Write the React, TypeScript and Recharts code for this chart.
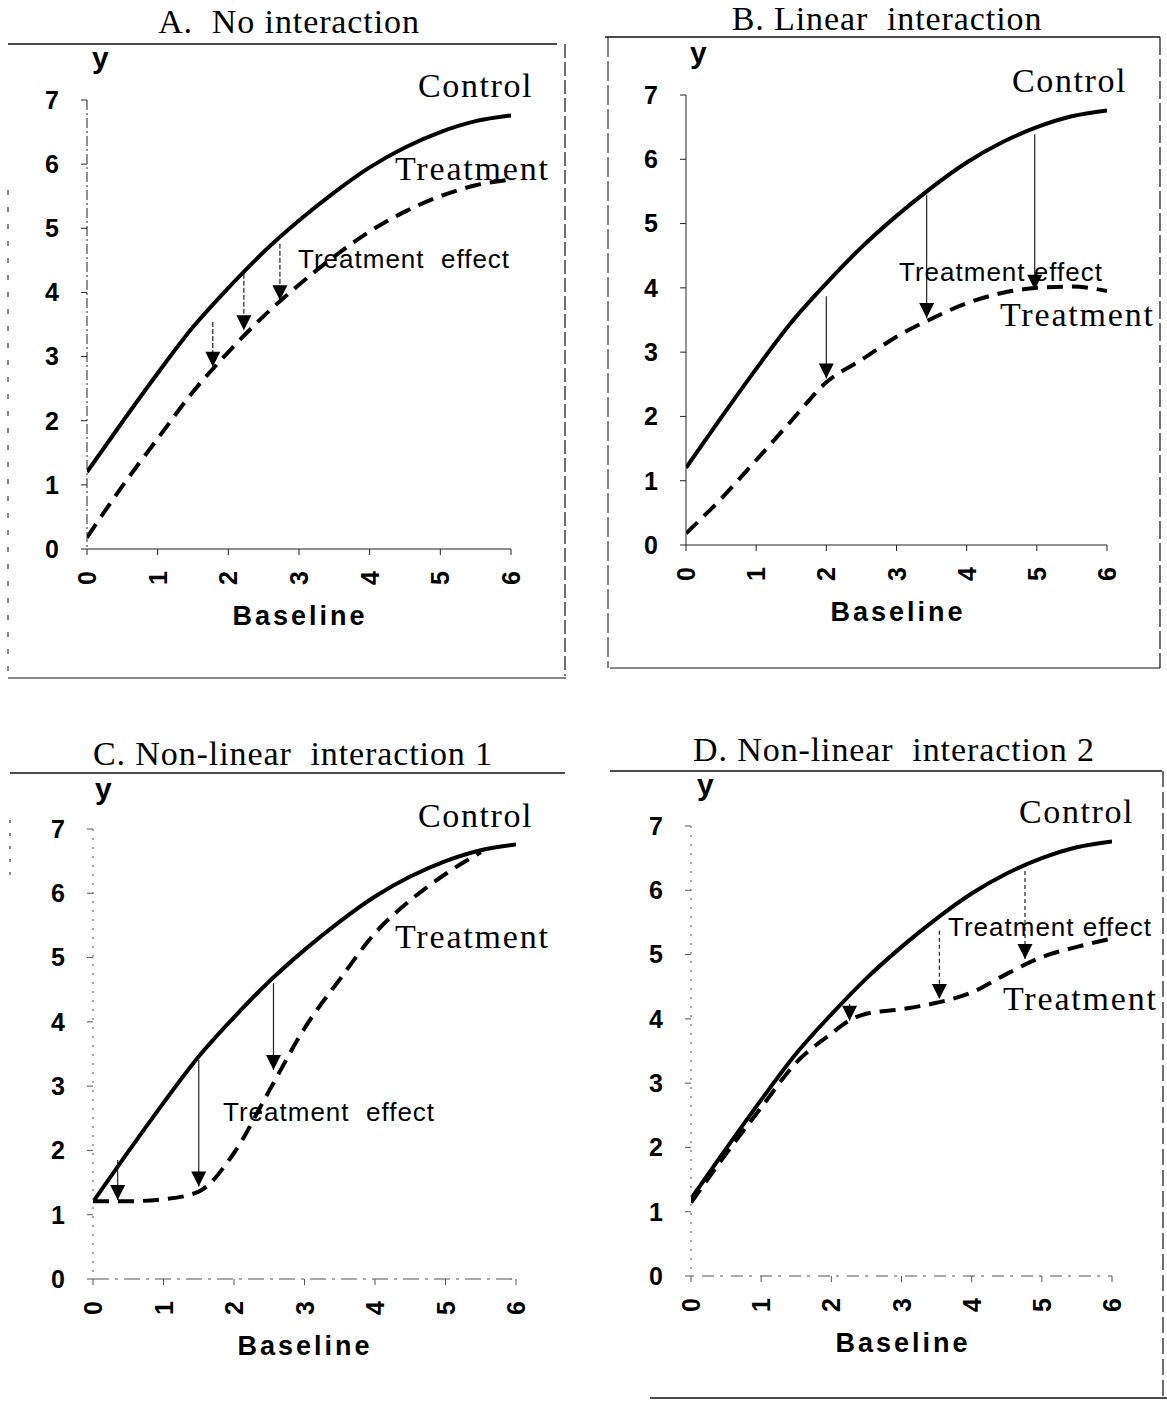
import React from 'react';
import { LineChart, Line, XAxis, YAxis, ReferenceLine, ReferenceDot } from 'recharts';

// Baseline grid shared by most curves
const baseline = [0, 0.5, 1, 1.5, 2, 2.5, 3, 3.5, 4, 4.5, 5, 5.5, 6];
const baselineD = [0, 0.5, 1, 1.5, 2, 2.25, 2.5, 3, 3.5, 4, 4.5, 5, 5.5, 6];
const xTicks = [0, 1, 2, 3, 4, 5, 6];
const yTicks = [0, 1, 2, 3, 4, 5, 6, 7];

const control = [1.2, 1.98, 2.74, 3.46, 4.07, 4.63, 5.12, 5.56, 5.95, 6.26, 6.5, 6.67, 6.76];
const treatmentA = [0.18, 0.98, 1.72, 2.45, 3.07, 3.63, 4.12, 4.56, 4.95, 5.26, 5.5, 5.67, 5.76];
const treatmentB = [0.18, 0.72, 1.32, 1.93, 2.53, 2.88, 3.24, 3.52, 3.76, 3.92, 4.0, 4.02, 3.95];
const treatmentC = [1.21, 1.21, 1.24, 1.36, 1.96, 2.93, 3.9, 4.66, 5.38, 5.89, 6.3, 6.64];
const treatmentD = [1.14, 1.9, 2.62, 3.32, 3.77, 3.97, 4.08, 4.15, 4.25, 4.41, 4.7, 4.96, 5.12, 5.25];

// treatment effect arrows: baseline position, start (near control), tip (on treatment)
const effectAx = [1.78, 2.22, 2.73];
const effectAFrom = [3.54, 4.29, 4.76];
const effectATo = [2.84, 3.41, 3.88];

const effectBx = [2.0, 3.43, 4.97];
const effectBFrom = [3.87, 5.45, 6.39];
const effectBTo = [2.59, 3.53, 3.97];

const effectCx = [0.35, 1.5, 2.56];
const effectCFrom = [1.85, 3.41, 4.6];
const effectCTo = [1.23, 1.44, 3.25];

const effectDx = [2.26, 3.54, 4.76];
const effectDFrom = [4.23, 5.37, 6.3];
const effectDTo = [3.97, 4.31, 4.93];

const zip = (xs: number[], ys: number[]) => ys.map((y, i) => ({ x: xs[i], y }));
const arrows = (xs: number[], from: number[], to: number[]) =>
  xs.map((x, i) => ({ x, from: from[i], to: to[i] }));

const SERIF = '"Liberation Serif", "Times New Roman", serif';
const SANS = '"Liberation Sans", Arial, sans-serif';

const panels = [
  {
    key: 'A', title: 'A.  No interaction', titleX: 289, titleY: 33,
    x0: 87, x6: 511, y7: 100, y0: 549,
    treatment: zip(baseline, treatmentA),
    effects: arrows(effectAx, effectAFrom, effectATo),
    yLabel: [92, 68], controlLbl: [418, 97], treatLbl: [395, 180], effectLbl: [298, 268], baseLbl: [300, 625],
    effectText: 'Treatment  effect',
    yAxisDash: '10 3 2 3', xAxisDash: undefined, axisColor: '#222', arrowDash: '5 2',
  },
  {
    key: 'B', title: 'B. Linear  interaction', titleX: 887, titleY: 30,
    x0: 686, x6: 1107, y7: 95, y0: 545,
    treatment: zip(baseline, treatmentB),
    effects: arrows(effectBx, effectBFrom, effectBTo),
    yLabel: [690, 63], controlLbl: [1012, 92], treatLbl: [1000, 326], effectLbl: [899, 281], baseLbl: [898, 621],
    effectText: 'Treatment effect',
    yAxisDash: undefined, xAxisDash: undefined, axisColor: '#222', arrowDash: undefined,
  },
  {
    key: 'C', title: 'C. Non-linear  interaction 1', titleX: 293, titleY: 765,
    x0: 93, x6: 516, y7: 829, y0: 1279,
    treatment: zip(baseline, treatmentC),
    effects: arrows(effectCx, effectCFrom, effectCTo),
    yLabel: [95, 799], controlLbl: [418, 827], treatLbl: [395, 948], effectLbl: [223, 1121], baseLbl: [305, 1355],
    effectText: 'Treatment  effect',
    yAxisDash: '2 7', xAxisDash: '16 6 3 6', axisColor: '#555', arrowDash: undefined,
  },
  {
    key: 'D', title: 'D. Non-linear  interaction 2', titleX: 894, titleY: 761,
    x0: 691, x6: 1112, y7: 826, y0: 1276,
    treatment: zip(baselineD, treatmentD),
    effects: arrows(effectDx, effectDFrom, effectDTo),
    yLabel: [697, 795], controlLbl: [1019, 823], treatLbl: [1003, 1010], effectLbl: [948, 936], baseLbl: [903, 1352],
    effectText: 'Treatment effect',
    yAxisDash: '2 7', xAxisDash: '3 8 12 6', axisColor: '#555', arrowDash: '4 3',
  },
];

const ArrowHead = (props: any) => {
  const { cx, cy } = props;
  if (cx == null || cy == null) return null;
  return <path d={`M${cx},${cy} L${cx - 7.5},${cy - 15} L${cx + 7.5},${cy - 15} Z`} fill="#000" />;
};

const RotatedTick = (props: any) => {
  const { x, y, payload } = props;
  return (
    <text
      x={x}
      y={y}
      transform={`rotate(-90 ${x} ${y})`}
      textAnchor="middle"
      dominantBaseline="central"
      fontFamily={SANS}
      fontWeight={700}
      fontSize={25}
      fill="#000"
    >
      {payload.value}
    </text>
  );
};

const ML = 80, MT = 60, MR = 60, MB = 110;

function Panel({ p }: { p: (typeof panels)[number] }) {
  const width = p.x6 - p.x0 + ML + MR;
  const height = p.y0 - p.y7 + MT + MB;
  const controlData = zip(baseline, control);
  return (
    <div style={{ position: 'absolute', left: p.x0 - ML, top: p.y7 - MT }}>
      <LineChart width={width} height={height} margin={{ top: MT, left: 20, right: MR, bottom: 20 }}>
        <XAxis
          type="number"
          dataKey="x"
          domain={[0, 6]}
          ticks={xTicks}
          allowDataOverflow
          height={90}
          tickSize={6}
          tickMargin={23}
          tick={<RotatedTick />}
          axisLine={{ stroke: p.axisColor, strokeWidth: 1.2, strokeDasharray: p.xAxisDash }}
          tickLine={{ stroke: p.axisColor }}
        />
        <YAxis
          type="number"
          dataKey="y"
          domain={[0, 7]}
          ticks={yTicks}
          allowDataOverflow
          width={60}
          tickSize={6}
          tickMargin={22}
          tick={{ fontFamily: SANS, fontWeight: 700, fontSize: 25, fill: '#000' }}
          axisLine={{ stroke: p.axisColor, strokeWidth: 1, strokeDasharray: p.yAxisDash }}
          tickLine={{ stroke: p.axisColor }}
        />
        <Line
          data={controlData}
          dataKey="y"
          type="monotone"
          stroke="#000"
          strokeWidth={4}
          dot={false}
          isAnimationActive={false}
        />
        <Line
          data={p.treatment}
          dataKey="y"
          type="monotone"
          stroke="#000"
          strokeWidth={4}
          strokeDasharray="16 9"
          dot={false}
          isAnimationActive={false}
        />
        {p.effects.map((e, i) => (
          <ReferenceLine
            key={`l${i}`}
            segment={[{ x: e.x, y: e.from }, { x: e.x, y: e.to }]}
            stroke="#222"
            strokeWidth={1.2}
            strokeDasharray={p.arrowDash}
          />
        ))}
        {p.effects.map((e, i) => (
          <ReferenceDot key={`d${i}`} x={e.x} y={e.to} r={8} shape={<ArrowHead />} />
        ))}
      </LineChart>
    </div>
  );
}

export default function App() {
  return (
    <div style={{ position: 'absolute', left: 0, top: 0, width: 1167, height: 1401, background: '#fff' }}>
      {panels.map((p) => (
        <Panel key={p.key} p={p} />
      ))}
      <svg width={1167} height={1401} style={{ position: 'absolute', left: 0, top: 0, pointerEvents: 'none' }}>
        {/* frames */}
        <g stroke="#111" fill="none">
          <path d="M8 44 H557" strokeWidth={1.6} />
          <path d="M565 44 V676" strokeWidth={1.2} strokeDasharray="14 4" />
          <path d="M8 190 V680" strokeWidth={1} strokeDasharray="5 12" />
          <path d="M8 678 H566" strokeWidth={1.2} />
          <path d="M605 37 H1160" strokeWidth={1.6} />
          <path d="M608 37 V668" strokeWidth={1} strokeDasharray="20 4" />
          <path d="M1160 37 V668" strokeWidth={1.2} strokeDasharray="18 4" />
          <path d="M610 668 H1160" strokeWidth={1.2} />
          <path d="M10 773 H565" strokeWidth={1.6} />
          <path d="M10 820 V880" strokeWidth={1} strokeDasharray="3 10" />
          <path d="M610 771 H1162" strokeWidth={1.6} />
          <path d="M1163 771 V1397" strokeWidth={1.2} strokeDasharray="16 5" />
          <path d="M650 1398 H1167" strokeWidth={1.6} />
        </g>
        {panels.map((p) => (
          <g key={p.key} fill="#000">
            <text x={p.titleX} y={p.titleY} textAnchor="middle" fontFamily={SERIF} fontSize={34} letterSpacing={0.9} style={{ whiteSpace: 'pre' }}>
              {p.title}
            </text>
            <text x={p.yLabel[0]} y={p.yLabel[1]} fontFamily={SANS} fontWeight={700} fontSize={30}>
              y
            </text>
            <text x={p.controlLbl[0]} y={p.controlLbl[1]} fontFamily={SERIF} fontSize={34} letterSpacing={1.6}>
              Control
            </text>
            <text x={p.treatLbl[0]} y={p.treatLbl[1]} fontFamily={SERIF} fontSize={34} letterSpacing={1.8}>
              Treatment
            </text>
            <text x={p.effectLbl[0]} y={p.effectLbl[1]} fontFamily={SANS} fontSize={26} letterSpacing={1} style={{ whiteSpace: 'pre' }}>
              {p.effectText}
            </text>
            <text x={p.baseLbl[0]} y={p.baseLbl[1]} textAnchor="middle" fontFamily={SANS} fontWeight={700} fontSize={27} letterSpacing={3}>
              Baseline
            </text>
          </g>
        ))}
      </svg>
    </div>
  );
}
